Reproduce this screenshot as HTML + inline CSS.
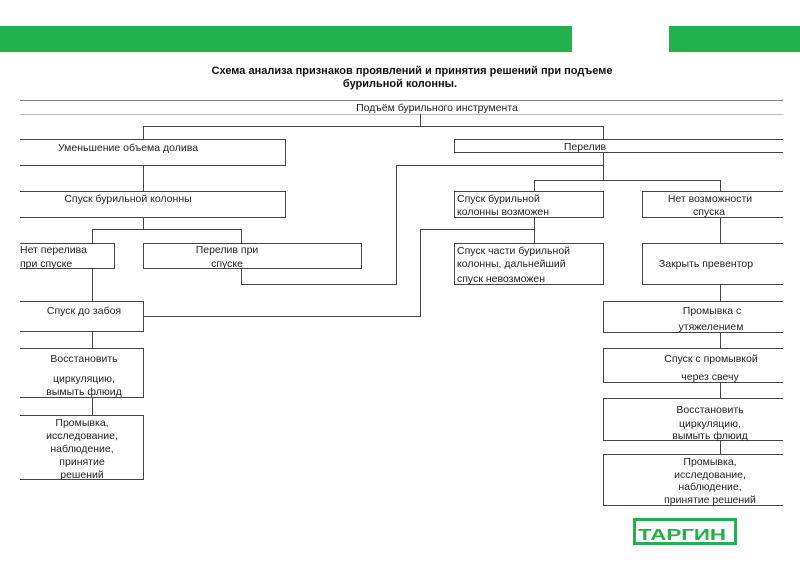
<!DOCTYPE html>
<html><head><meta charset="utf-8"><style>
html,body{margin:0;padding:0;background:#fff;}
svg{display:block;}
text{font-family:"Liberation Sans",Arial,sans-serif;font-size:10.5px;fill:#222;}
.t{font-weight:bold;font-size:11px;fill:#111;}
</style></head><body>
<svg width="800" height="565" viewBox="0 0 800 565" xmlns="http://www.w3.org/2000/svg">
<rect x="0" y="26" width="572" height="26" fill="#22b14c"/>
<rect x="669" y="26" width="131" height="26" fill="#22b14c"/>
<text class="t" x="412" y="74" text-anchor="middle">Схема анализа признаков проявлений и принятия решений при подъеме</text>
<text class="t" x="400" y="87" text-anchor="middle">бурильной колонны.</text>

<g fill="none" stroke="#444" stroke-width="1">
<!-- top box -->
<path d="M20 100.5H783" stroke="#888"/>
<path d="M20 114.5H783" stroke="#bbb"/>
<!-- connectors -->
<path d="M420.5 114V126.5M143.5 126.5H603.5M143.5 126V139M603.5 126V139"/>
<!-- Уменьшение -->
<path d="M20 139.5H285.5V165.5H20"/>
<path d="M143.5 165V191"/>
<!-- Спуск бурильной колонны -->
<path d="M20 191.5H285.5V217.5H20"/>
<path d="M143.5 217V229.5M92.5 229.5H241.5M92.5 229V243M241.5 229V243"/>
<!-- Нет перелива -->
<path d="M20 243.5H114.5V268.5H20"/>
<!-- Перелив при спуске -->
<path d="M143.5 243.5H361.5V268.5H143.5Z"/>
<path d="M241.5 268V284.5H396.5V165.5H603.5"/>
<path d="M92.5 268V301"/>
<!-- Спуск до забоя -->
<path d="M20 301.5H143.5V331.5H20"/>
<path d="M143 316.5H420.5V229.5H534.5"/>
<path d="M92.5 331V348"/>
<!-- Восстановить left -->
<path d="M20 348.5H143.5V397.5H20"/>
<path d="M92.5 397V415"/>
<path d="M20 415.5H143.5V479.5H20"/>
<!-- Перелив box -->
<path d="M783 139.5H454.5V152.5H783"/>
<path d="M603.5 152V180.5M534.5 180.5H720.5M534.5 180V191M720.5 180V191"/>
<!-- Спуск бурильной колонны возможен -->
<path d="M454.5 191.5H603.5V217.5H454.5Z"/>
<path d="M534.5 217V243"/>
<!-- Нет возможности -->
<path d="M783 191.5H642.5V217.5H783"/>
<path d="M720.5 217V243"/>
<!-- Спуск части -->
<path d="M454.5 243.5H603.5V284.5H454.5Z"/>
<!-- Закрыть превентор -->
<path d="M783 243.5H642.5V284.5H783"/>
<path d="M720.5 284V301"/>
<path d="M783 301.5H603.5V332.5H783"/>
<path d="M720.5 332V348"/>
<path d="M783 348.5H603.5V382.5H783"/>
<path d="M720.5 382V398"/>
<path d="M783 398.5H603.5V440.5H783"/>
<path d="M720.5 440V454"/>
<path d="M783 454.5H603.5V505.5H783"/>
</g>

<text x="437" y="111" text-anchor="middle">Подъём бурильного инструмента</text>
<text x="128" y="151" text-anchor="middle">Уменьшение объема долива</text>
<text x="128" y="202" text-anchor="middle">Спуск бурильной колонны</text>
<text x="585" y="150" text-anchor="middle">Перелив</text>
<text x="20" y="253">Нет перелива</text>
<text x="20" y="267">при спуске</text>
<text x="227" y="253" text-anchor="middle">Перелив при</text>
<text x="227" y="267" text-anchor="middle">спуске</text>
<text x="84" y="314" text-anchor="middle">Спуск до забоя</text>
<text x="84" y="362" text-anchor="middle">Восстановить</text>
<text x="84" y="382" text-anchor="middle">циркуляцию,</text>
<text x="84" y="395" text-anchor="middle">вымыть флюид</text>
<text x="82" y="426" text-anchor="middle">Промывка,</text>
<text x="82" y="439" text-anchor="middle">исследование,</text>
<text x="82" y="452" text-anchor="middle">наблюдение,</text>
<text x="82" y="465" text-anchor="middle">принятие</text>
<text x="82" y="478" text-anchor="middle">решений</text>

<text x="457" y="202">Спуск бурильной</text>
<text x="457" y="215">колонны возможен</text>
<text x="710" y="202" text-anchor="middle">Нет возможности</text>
<text x="709" y="215" text-anchor="middle">спуска</text>
<text x="457" y="254">Спуск части бурильной</text>
<text x="457" y="267">колонны, дальнейший</text>
<text x="457" y="282">спуск невозможен</text>
<text x="706" y="267" text-anchor="middle">Закрыть превентор</text>
<text x="712" y="314" text-anchor="middle">Промывка с</text>
<text x="711" y="330" text-anchor="middle">утяжелением</text>
<text x="711" y="362" text-anchor="middle">Спуск с промывкой</text>
<text x="710" y="380" text-anchor="middle">через свечу</text>
<text x="710" y="413" text-anchor="middle">Восстановить</text>
<text x="710" y="427" text-anchor="middle">циркуляцию,</text>
<text x="710" y="439" text-anchor="middle">вымыть флюид</text>
<text x="710" y="465" text-anchor="middle">Промывка,</text>
<text x="710" y="478" text-anchor="middle">исследование,</text>
<text x="710" y="490" text-anchor="middle">наблюдение,</text>
<text x="710" y="503" text-anchor="middle">принятие решений</text>

<rect x="634.5" y="519.5" width="101" height="24" fill="none" stroke="#22b14c" stroke-width="3"/>
<text x="682" y="540" text-anchor="middle" textLength="88" lengthAdjust="spacingAndGlyphs" style="font-weight:bold;font-size:16px;fill:#22b14c;">ТАРГИН</text>
</svg>
</body></html>
